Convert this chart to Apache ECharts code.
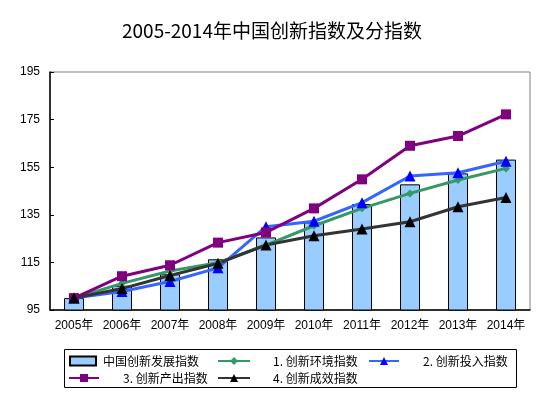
<!DOCTYPE html>
<html>
<head>
<meta charset="utf-8">
<script src="https://cdn.jsdelivr.net/npm/echarts@6/dist/echarts.min.js"></script>
<style>
  html, body { margin: 0; padding: 0; background: #fff; }
  #chart { width: 552px; height: 407px; }
</style>
</head>
<body>
<div id="chart"></div>
<script>
// years on the x axis
const years = ['2005年', '2006年', '2007年', '2008年', '2009年', '2010年', '2011年', '2012年', '2013年', '2014年'];

// 中国创新发展指数 (bars)
const totalIndex = [100, 105.2, 110, 116.3, 125.5, 131.8, 139.5, 147.8, 152.4, 158.2];
// sub indices (lines)
const envIndex = [100, 106.2, 111.4, 114.9, 122.3, 130.4, 137.7, 144.0, 149.6, 154.5];
const inputIndex = [100, 102.8, 107.0, 112.7, 130.0, 132.3, 140.1, 151.3, 152.7, 157.5];
const outputIndex = [100, 109.2, 113.8, 123.3, 127.6, 137.7, 149.9, 164.0, 168.1, 177.2];
const effectIndex = [100, 104.0, 109.5, 114.6, 122.3, 126.2, 129.0, 132.1, 138.4, 142.3];

const yTicks = [95, 115, 135, 155, 175, 195];

const names = ['中国创新发展指数', '1. 创新环境指数', '2. 创新投入指数', '3. 创新产出指数', '4. 创新成效指数'];

const chart = echarts.init(document.getElementById('chart'));

const legendFont = { fontSize: 12, color: '#000', fontFamily: '"Noto Sans CJK SC", sans-serif' };

function legendAt(name, left, top, w, h, gap, icon) {
  const lg = {
    data: [name],
    left, top,
    itemWidth: w, itemHeight: h,
    padding: 0,
    selectedMode: false,
    textStyle: Object.assign({ padding: [0, 0, 0, gap] }, legendFont),
  };
  if (icon) lg.icon = icon;
  return lg;
}

function lineSeries(name, data, lineColor, symColor, symbol, size) {
  return {
    name, type: 'line', data,
    symbol, symbolSize: size,
    lineStyle: { color: lineColor, width: 3 },
    itemStyle: { color: symColor },
    z: 3,
  };
}

chart.setOption({
  animation: false,
  backgroundColor: '#fff',
  title: {
    text: '2005-2014年中国创新指数及分指数',
    left: 117, top: 16,
    textStyle: { fontSize: 19, fontWeight: 'normal', color: '#000', fontFamily: '"Noto Sans CJK SC", sans-serif' },
  },
  grid: {
    left: 50, right: 22, top: 72, bottom: 97,
    show: true, borderColor: '#808080', borderWidth: 1,
  },
  xAxis: {
    type: 'category',
    data: years,
    boundaryGap: true,
    axisLine: { lineStyle: { color: '#000', width: 1.5 } },
    axisTick: { inside: true, length: 4, interval: 0, lineStyle: { color: '#000' } },
    axisLabel: { color: '#000', fontSize: 12, margin: 10, interval: 0, fontFamily: '"Liberation Sans", "Noto Sans CJK SC", sans-serif' },
  },
  yAxis: {
    type: 'value',
    min: 95, max: 195,
    splitLine: { show: false },
    axisLine: { show: true, lineStyle: { color: '#000', width: 1.5 } },
    axisTick: { show: true, inside: true, length: 4, customValues: yTicks, lineStyle: { color: '#000' } },
    axisLabel: { color: '#000', fontSize: 12, margin: 10, customValues: yTicks, fontFamily: '"Liberation Sans", sans-serif' },
  },
  legend: [
    legendAt(names[0], 69, 355, 26, 9, 2, 'rect'),
    legendAt(names[1], 217, 355, 32, 10, 18),
    legendAt(names[2], 368, 355, 30, 10, 19),
    legendAt(names[3], 68, 372, 30, 10, 19),
    legendAt(names[4], 217, 372, 32, 10, 18),
  ],
  graphic: [{
    type: 'rect',
    shape: { x: 64.5, y: 349.5, width: 452, height: 38 },
    style: { fill: 'none', stroke: '#000', lineWidth: 1 },
  }],
  series: [
    {
      name: names[0], type: 'bar', data: totalIndex,
      barWidth: 20,
      itemStyle: { color: '#99CCFF', borderColor: '#000', borderWidth: 1 },
      z: 2,
    },
    lineSeries(names[1], envIndex, '#339966', '#339966', 'diamond', 8),
    lineSeries(names[2], inputIndex, '#3366FF', '#0000FF', 'triangle', 11),
    lineSeries(names[3], outputIndex, '#800080', '#800080', 'rect', 10),
    lineSeries(names[4], effectIndex, '#333333', '#000000', 'triangle', 11),
  ],
});
</script>
</body>
</html>
